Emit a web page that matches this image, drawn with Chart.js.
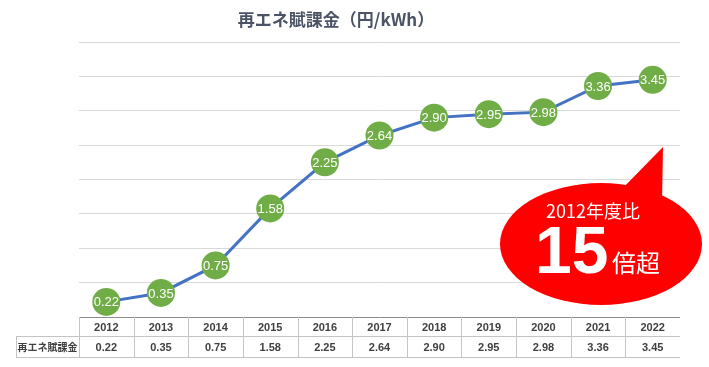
<!DOCTYPE html>
<html>
<head>
<meta charset="utf-8">
<script src="https://cdn.jsdelivr.net/npm/chart.js@4.4.0/dist/chart.umd.min.js"></script>
<style>
	html, body { margin: 0; padding: 0; background: #ffffff; }
	#wrap { width: 709px; height: 367px; }
</style>
</head>
<body>
<div id="wrap"><canvas id="levyChart" width="709" height="367"></canvas></div>
<script>
// data
const years = ["2012", "2013", "2014", "2015", "2016", "2017", "2018", "2019", "2020", "2021", "2022"];
const levy = [0.22, 0.35, 0.75, 1.58, 2.25, 2.64, 2.90, 2.95, 2.98, 3.36, 3.45];
const seriesName = "再エネ賦課金";
const chartTitle = "再エネ賦課金（円/kWh）";
const calloutLines = ["2012年度比", "15", "倍超"];

const CJK = '"Noto Sans CJK JP", "Noto Sans", sans-serif';
const LAT = '"Liberation Sans", Arial, sans-serif';

// labels inside the green markers
const pointLabels = {
	id: "pointLabels",
	afterDatasetsDraw(chart) {
		const ctx = chart.ctx;
		const meta = chart.getDatasetMeta(0);
		ctx.save();
		ctx.fillStyle = "#ffffff";
		ctx.font = "13px " + LAT;
		ctx.textAlign = "center";
		ctx.textBaseline = "middle";
		meta.data.forEach((pt, i) => {
			ctx.fillText(levy[i].toFixed(2), pt.x, pt.y + 1);
		});
		ctx.restore();
	}
};

// data table under the plot + title + callout
const extras = {
	id: "extras",
	afterDraw(chart) {
		const ctx = chart.ctx;
		const x = chart.scales.x;
		const area = chart.chartArea;
		const half = (x.getPixelForValue(1) - x.getPixelForValue(0)) / 2;
		const top = area.bottom;
		const mid = top + 19;
		const bot = top + 40;
		const labelLeft = 16;

		ctx.save();
		// title
		ctx.fillStyle = "#4a5466";
		ctx.font = "bold 17px " + CJK;
		ctx.textAlign = "center";
		ctx.textBaseline = "middle";
		ctx.fillText(chartTitle, 336, 20);

		// table lines
		ctx.strokeStyle = "#c4c4c4";
		ctx.lineWidth = 1;
		ctx.beginPath();
		ctx.moveTo(labelLeft, mid + 0.5); ctx.lineTo(area.right, mid + 0.5);
		ctx.moveTo(labelLeft, bot + 0.5); ctx.lineTo(area.right, bot + 0.5);
		ctx.moveTo(labelLeft + 0.5, mid); ctx.lineTo(labelLeft + 0.5, bot);
		for (let i = 0; i < years.length; i++) {
			const lx = Math.round(x.getPixelForValue(i) - half) + 0.5;
			ctx.moveTo(lx, top); ctx.lineTo(lx, bot);
		}
		ctx.stroke();

		// text
		ctx.fillStyle = "#404040";
		ctx.font = "bold 11px " + LAT;
		years.forEach((y, i) => {
			const cx = x.getPixelForValue(i);
			ctx.fillText(y, cx, (top + mid) / 2 + 1);
			ctx.fillText(levy[i].toFixed(2), cx, (mid + bot) / 2 + 1);
		});
		ctx.font = "bold 10px " + CJK;
		ctx.fillText(seriesName, (labelLeft + area.left) / 2, (mid + bot) / 2 + 1);

		// red callout
		ctx.fillStyle = "#ff0000";
		ctx.beginPath();
		ctx.ellipse(601, 244, 101, 61, 0, 0, Math.PI * 2);
		ctx.fill();
		ctx.beginPath();
		ctx.moveTo(616, 195);
		ctx.lineTo(663, 147);
		ctx.lineTo(662, 204);
		ctx.closePath();
		ctx.fill();

		ctx.fillStyle = "#ffffff";
		ctx.textBaseline = "alphabetic";
		ctx.textAlign = "center";
		ctx.font = "18px " + CJK;
		ctx.fillText(calloutLines[0], 593, 218);
		ctx.textAlign = "left";
		ctx.font = "bold 66px " + LAT;
		ctx.fillText(calloutLines[1], 535, 273);
		ctx.font = "24px " + CJK;
		ctx.fillText(calloutLines[2], 612, 272);
		ctx.restore();
	}
};

const ctx = document.getElementById("levyChart").getContext("2d");
new Chart(ctx, {
	type: "line",
	data: {
		labels: years,
		datasets: [
			{
				label: seriesName,
				data: levy,
				borderColor: "#4472c4",
				borderWidth: 3,
				pointRadius: 14,
				pointHoverRadius: 14,
				pointBackgroundColor: "#70ad47",
				pointBorderColor: "#70ad47",
				pointBorderWidth: 0,
				tension: 0,
			},
		],
	},
	options: {
		responsive: false,
		animation: false,
		events: [],
		layout: { padding: { left: 79, right: 29, top: 42, bottom: 50 } },
		plugins: {
			legend: { display: false },
			title: { display: false },
			tooltip: { enabled: false },
		},
		scales: {
			x: {
				display: false,
				offset: true,
			},
			y: {
				min: 0,
				max: 4,
				ticks: { display: false, stepSize: 0.5 },
				border: { display: false },
				grid: {
					drawTicks: false,
					color: (c) => (c.tick && c.tick.value === 0 ? "#8c8c8c" : "#d9d9d9"),
				},
			},
		},
	},
	plugins: [pointLabels, extras],
});
</script>
</body>
</html>
